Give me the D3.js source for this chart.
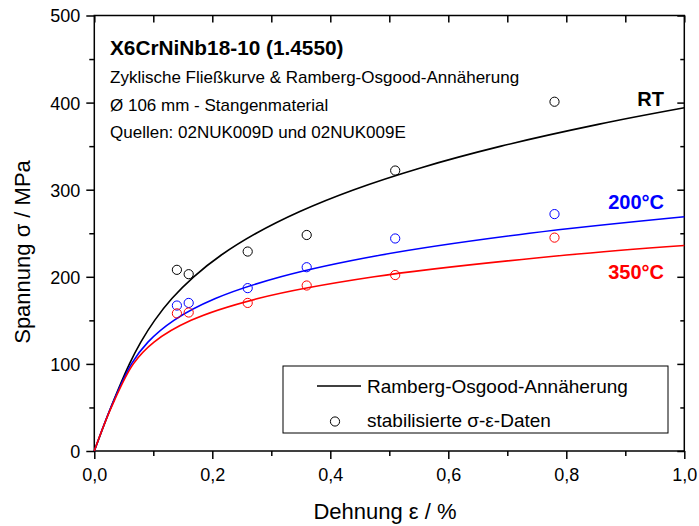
<!DOCTYPE html>
<html>
<head>
<meta charset="utf-8">
<script src="https://cdn.jsdelivr.net/npm/d3@7"></script>
<style>
  html, body { margin: 0; padding: 0; background: #fff; }
  svg { display: block; font-family: "Liberation Sans", Arial, sans-serif; }
</style>
</head>
<body>
<svg id="chart" width="699" height="526"></svg>
<script>
// ---- data ----
const pointStrain = [0.14, 0.16, 0.26, 0.36, 0.51, 0.78];
const pointsRT    = [208, 203, 229, 248, 322, 401];
const points200   = [167, 170, 187, 211, 244, 272];
const points350   = [158, 159, 170, 190, 202, 245];

// Ramberg-Osgood fit curves, sampled (strain in %, stress in MPa)
const curveRTStrain  = [0, 0.0281, 0.0596, 0.0788, 0.1023, 0.1315, 0.1685, 0.2153, 0.2745, 0.3484, 0.4401, 0.5528, 0.6895, 0.854, 1.0];
const curveRTStress  = [0, 50, 100, 125, 150, 175, 200, 225, 250, 275, 300, 325, 350, 375, 394];
const curve200Strain = [0, 0.0281, 0.063, 0.0909, 0.1349, 0.2052, 0.3162, 0.4859, 0.7375, 1.0];
const curve200Stress = [0, 50, 100, 125, 150, 175, 200, 225, 250, 269];
const curve350Strain = [0, 0.0288, 0.0662, 0.1012, 0.164, 0.2773, 0.4743, 0.8004, 1.0];
const curve350Stress = [0, 50, 100, 125, 150, 175, 200, 225, 236];

const seriesNames  = ["RT", "200°C", "350°C"];
const seriesColors = ["#000000", "#0000ff", "#ff0000"];

const xTicks = [0, 0.2, 0.4, 0.6, 0.8, 1.0];
const xMinor = [0.1, 0.3, 0.5, 0.7, 0.9];
const yTicks = [0, 100, 200, 300, 400, 500];
const yMinor = [50, 150, 250, 350, 450];

const titleLines = [
  "X6CrNiNb18-10 (1.4550)",
  "Zyklische Fließkurve & Ramberg-Osgood-Annäherung",
  "Ø 106 mm - Stangenmaterial",
  "Quellen: 02NUK009D und 02NUK009E"
];
const legendLabels = ["Ramberg-Osgood-Annäherung", "stabilisierte σ-ε-Daten"];

(function draw() {
  const svg = d3.select("#chart");
  const pL = 94.3, pR = 684.3, pT = 15.5, pB = 451;
  const x = d3.scaleLinear().domain([0, 1]).range([pL, pR]);
  const y = d3.scaleLinear().domain([0, 500]).range([pB, pT]);

  const fmt = d => d3.format(".1f")(d).replace(".", ",");

  svg.append("rect")
    .attr("x", pL).attr("y", pT)
    .attr("width", pR - pL).attr("height", pB - pT)
    .attr("fill", "none").attr("stroke", "#000").attr("stroke-width", 1.5);

  const bottomAxis = svg.append("g").attr("transform", `translate(0,${pB})`)
    .call(d3.axisBottom(x).tickValues(xTicks).tickSize(8).tickFormat(fmt));
  const bottomMinor = svg.append("g").attr("transform", `translate(0,${pB})`)
    .call(d3.axisBottom(x).tickValues(xMinor).tickSize(5).tickFormat(""));
  const leftAxis = svg.append("g").attr("transform", `translate(${pL},0)`)
    .call(d3.axisLeft(y).tickValues(yTicks).tickSize(8).tickFormat(d3.format("d")));
  const leftMinor = svg.append("g").attr("transform", `translate(${pL},0)`)
    .call(d3.axisLeft(y).tickValues(yMinor).tickSize(5).tickFormat(""));
  const topAxis = svg.append("g").attr("transform", `translate(0,${pT})`)
    .call(d3.axisBottom(x).tickValues(xTicks).tickSize(7).tickFormat(""));
  const topMinor = svg.append("g").attr("transform", `translate(0,${pT})`)
    .call(d3.axisBottom(x).tickValues(xMinor).tickSize(7).tickFormat(""));
  const rightAxis = svg.append("g").attr("transform", `translate(${pR},0)`)
    .call(d3.axisLeft(y).tickValues(yTicks).tickSize(7).tickFormat(""));
  const rightMinor = svg.append("g").attr("transform", `translate(${pR},0)`)
    .call(d3.axisLeft(y).tickValues(yMinor).tickSize(4).tickFormat(""));

  [bottomAxis, bottomMinor, leftAxis, leftMinor, topAxis, topMinor, rightAxis, rightMinor].forEach(g => {
    g.select(".domain").remove();
    g.selectAll(".tick line").attr("stroke", "#000").attr("stroke-width", 1.5);
    g.selectAll(".tick text").attr("fill", "#000")
      .style("font-family", '"Liberation Sans", Arial, sans-serif')
      .style("font-size", "18px");
  });
  bottomAxis.selectAll(".tick text").attr("y", 30).attr("dy", 0);
  leftAxis.selectAll(".tick text").attr("x", -14).attr("dy", "0.36em");

  svg.append("text").attr("x", 385).attr("y", 519)
    .attr("text-anchor", "middle").style("font-size", "22px")
    .text("Dehnung ε / %");
  svg.append("text")
    .attr("transform", `translate(30,252) rotate(-90)`)
    .attr("text-anchor", "middle").style("font-size", "22px")
    .text("Spannung σ / MPa");

  const line = d3.line().x(d => x(d[0])).y(d => y(d[1])).curve(d3.curveCatmullRom.alpha(0.5));
  const curveData = [
    d3.zip(curveRTStrain, curveRTStress),
    d3.zip(curve200Strain, curve200Stress),
    d3.zip(curve350Strain, curve350Stress)
  ];
  const pointData = [pointsRT, points200, points350];

  curveData.forEach((c, i) => {
    svg.append("path").datum(c)
      .attr("d", line).attr("fill", "none")
      .attr("stroke", seriesColors[i]).attr("stroke-width", 1.6);
  });
  pointData.forEach((p, i) => {
    svg.append("g").selectAll("circle")
      .data(d3.zip(pointStrain, p)).join("circle")
      .attr("cx", d => x(d[0])).attr("cy", d => y(d[1])).attr("r", 4.6)
      .attr("fill", "none").attr("stroke", seriesColors[i]).attr("stroke-width", 1);
  });

  const labelY = [106, 209, 279];
  seriesNames.forEach((n, i) => {
    svg.append("text").attr("x", 664).attr("y", labelY[i])
      .attr("text-anchor", "end").attr("fill", seriesColors[i])
      .style("font-size", "20px").style("font-weight", "bold").text(n);
  });

  const titleY = [55, 83, 111, 138];
  titleLines.forEach((t, i) => {
    svg.append("text").attr("x", 110).attr("y", titleY[i])
      .style("font-size", i === 0 ? "20.8px" : "17px")
      .style("font-weight", i === 0 ? "bold" : "normal")
      .text(t);
  });

  svg.append("rect").attr("x", 283).attr("y", 366).attr("width", 385).attr("height", 67)
    .attr("fill", "#fff").attr("stroke", "#000").attr("stroke-width", 1);
  svg.append("line").attr("x1", 317).attr("x2", 361).attr("y1", 386).attr("y2", 386)
    .attr("stroke", "#000").attr("stroke-width", 1.6);
  svg.append("circle").attr("cx", 335).attr("cy", 421.5).attr("r", 4.6)
    .attr("fill", "none").attr("stroke", "#000").attr("stroke-width", 1);
  svg.append("text").attr("x", 367).attr("y", 393).style("font-size", "19px").text(legendLabels[0]);
  svg.append("text").attr("x", 367).attr("y", 427).style("font-size", "19px").text(legendLabels[1]);
})();
</script>
</body>
</html>
